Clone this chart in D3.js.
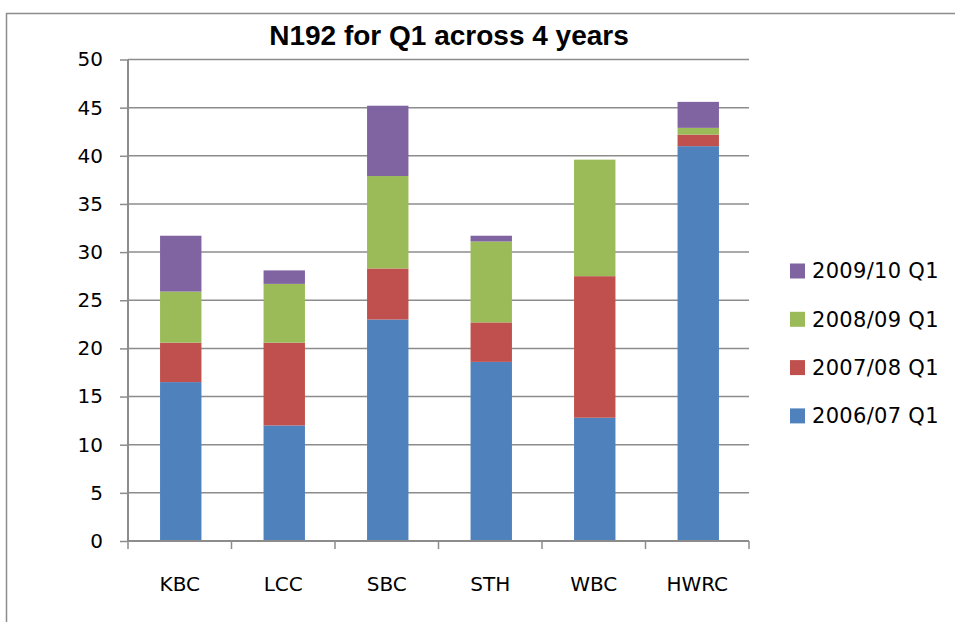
<!DOCTYPE html>
<html>
<head>
<meta charset="utf-8">
<script src="https://cdn.jsdelivr.net/npm/d3@7"></script>
<style>
  body { margin: 0; background: #fff; }
  svg { display: block; }
</style>
</head>
<body>
<div class="chart"></div>
<script>
var categories = ["KBC", "LCC", "SBC", "STH", "WBC", "HWRC"];
var seriesNames = ["2006/07 Q1", "2007/08 Q1", "2008/09 Q1", "2009/10 Q1"];
var q2006 = [16.5, 12.0, 23.0, 18.6, 12.8, 41.0];
var q2007 = [4.1, 8.6, 5.3, 4.1, 14.7, 1.2];
var q2008 = [5.3, 6.1, 9.6, 8.4, 12.1, 0.7];
var q2009 = [5.8, 1.4, 7.3, 0.6, 0, 2.7];
var colors = ["#4F81BD", "#C0504D", "#9BBB59", "#8064A2"];
var yTicks = [0, 5, 10, 15, 20, 25, 30, 35, 40, 45, 50];

var svgWidth = 955;
var svgHeight = 622;

var plot = { left: 128, right: 749, top: 59.5, bottom: 541 };

var svg = d3.select(".chart")
  .append("svg")
  .attr("width", svgWidth)
  .attr("height", svgHeight);

// chart area border (runs off the right and bottom edges)
svg.append("rect")
  .attr("x", 6.5)
  .attr("y", 13.5)
  .attr("width", 1000)
  .attr("height", 700)
  .attr("fill", "#fff")
  .attr("stroke", "#8c8c8c")
  .attr("stroke-width", 1.5);

// build rows for stacking
var rows = categories.map(function(c, i) {
  return { cat: c, s0: q2006[i], s1: q2007[i], s2: q2008[i], s3: q2009[i] };
});
var stacked = d3.stack().keys(["s0", "s1", "s2", "s3"])(rows);

var x = d3.scaleBand()
  .domain(categories)
  .range([plot.left, plot.right])
  .paddingInner(0.6)
  .paddingOuter(0.3);

var y = d3.scaleLinear()
  .domain([0, 50])
  .range([plot.bottom, plot.top]);

// gridlines
svg.append("g")
  .selectAll("line")
  .data(yTicks.slice(1))
  .enter()
  .append("line")
  .attr("x1", plot.left)
  .attr("x2", plot.right)
  .attr("y1", d => y(d))
  .attr("y2", d => y(d))
  .attr("stroke", "#8c8c8c")
  .attr("stroke-width", 1.5);

// bars
svg.append("g")
  .selectAll("g")
  .data(stacked)
  .enter()
  .append("g")
  .attr("fill", (d, i) => colors[i])
  .selectAll("rect")
  .data(d => d)
  .enter()
  .append("rect")
  .attr("x", d => x(d.data.cat) + 1)
  .attr("width", x.bandwidth())
  .attr("y", d => y(d[1]))
  .attr("height", d => y(d[0]) - y(d[1]));

// y axis
var leftAxis = d3.axisLeft(y)
  .tickValues(yTicks)
  .tickSize(8)
  .tickPadding(17);

var yAxis = svg.append("g")
  .attr("transform", `translate(${plot.left}, 0)`)
  .call(leftAxis);

// x axis, ticks at the band edges
var bottomAxis = d3.axisBottom(x).tickSize(0).tickPadding(36);
var xAxis = svg.append("g")
  .attr("transform", `translate(0, ${plot.bottom})`)
  .call(bottomAxis);

var edges = categories.map(c => x(c) - x.step() * x.paddingInner() / 2);
edges[0] = plot.left;
edges.push(plot.right);
xAxis.selectAll(".edge")
  .data(edges)
  .enter()
  .append("line")
  .attr("class", "edge")
  .attr("x1", d => d)
  .attr("x2", d => d)
  .attr("y1", 0)
  .attr("y2", 8);

svg.selectAll(".domain").attr("stroke", "#8c8c8c").attr("stroke-width", 2);
xAxis.select(".domain").attr("d", `M${plot.left},0H${plot.right}`);
yAxis.select(".domain").attr("d", `M0,${plot.bottom}V${plot.top}`);
svg.selectAll(".tick line, .edge").attr("stroke", "#8c8c8c").attr("stroke-width", 1.5);
svg.selectAll(".tick text")
  .attr("fill", "#000")
  .style("font-family", "DejaVu Sans, sans-serif")
  .style("font-size", "20px");

// title
svg.append("text")
  .attr("x", 449)
  .attr("y", 45)
  .attr("text-anchor", "middle")
  .style("font-family", "Liberation Sans, Arial, sans-serif")
  .style("font-weight", "bold")
  .style("font-size", "28px")
  .text("N192 for Q1 across 4 years");

// legend, newest year on top
var legend = svg.append("g")
  .selectAll("g")
  .data(seriesNames.slice().reverse())
  .enter()
  .append("g")
  .attr("transform", (d, i) => `translate(790, ${271 + i * 48.3})`);

legend.append("rect")
  .attr("x", 0)
  .attr("y", -7.5)
  .attr("width", 15)
  .attr("height", 15)
  .attr("fill", (d, i) => colors[3 - i]);

legend.append("text")
  .attr("x", 22)
  .attr("y", 0)
  .attr("dy", "0.35em")
  .style("font-family", "DejaVu Sans, sans-serif")
  .style("font-size", "21px")
  .style("letter-spacing", "0.3px")
  .text(d => d);
</script>
</body>
</html>
